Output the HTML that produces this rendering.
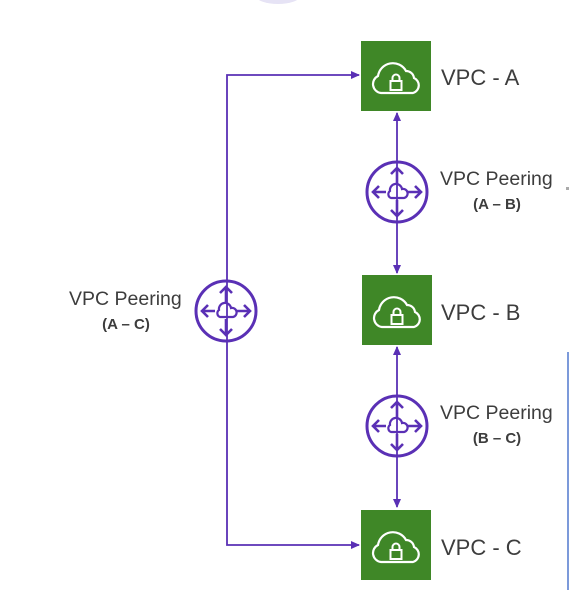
<!DOCTYPE html>
<html><head><style>
html,body{margin:0;padding:0;background:#fff;}
svg{display:block;}
text{font-family:"Liberation Sans",sans-serif;fill:#3d3d3d;}
</style></head><body>
<svg width="570" height="590" viewBox="0 0 570 590" xmlns="http://www.w3.org/2000/svg">
<defs>
<marker id="ah" markerWidth="10" markerHeight="10" refX="8" refY="4" orient="auto" markerUnits="userSpaceOnUse">
<path d="M0,0 L9,4 L0,8 Z" fill="#5a30b5"/>
</marker>
<g id="vpc">
<rect x="0" y="0" width="70" height="70" fill="#3f8727"/>
<path d="M20,52 A9,9 0 0 1 17,35 A15,15 0 0 1 45,30 A8,8 0 0 1 53,37 A8,8 0 0 1 52,52 Z" fill="none" stroke="#fff" stroke-width="2.2"/>
<rect x="29.5" y="40" width="11" height="9" fill="none" stroke="#fff" stroke-width="2"/>
<path d="M31.5,40 V37 A3.5,3.5 0 0 1 38.5,37 V40" fill="none" stroke="#fff" stroke-width="2"/>
</g>
<g id="peer" fill="none" stroke="#5a30b5" stroke-width="2.6">
<circle cx="0" cy="0" r="30" stroke-width="3"/>
<path d="M0,-8 V-24 M-6,-18 L0,-24 L6,-18"/>
<path d="M0,8 V24 M-6,18 L0,24 L6,18"/>
<path d="M-11,0 H-24 M-18,-6 L-24,0 L-18,6"/>
<path d="M11,0 H24 M18,-6 L24,0 L18,6"/>
<path d="M-6,6 A4,4 0 0 1 -7,-1 A6,6 0 0 1 5,-3 A4,4 0 0 1 7,6 Z" stroke-width="2.2"/>
</g>
</defs>

<ellipse cx="278" cy="-4" rx="22" ry="8" fill="#e6e3f5"/>

<g stroke="#5a30b5" stroke-width="1.8" fill="none">
<path d="M227,300 V75 H359" marker-end="url(#ah)"/>
<path d="M227,300 V545 H359" marker-end="url(#ah)"/>
<line x1="397" y1="200" x2="397" y2="113" marker-end="url(#ah)"/>
<line x1="397" y1="180" x2="397" y2="273" marker-end="url(#ah)"/>
<line x1="397" y1="430" x2="397" y2="347" marker-end="url(#ah)"/>
<line x1="397" y1="420" x2="397" y2="507" marker-end="url(#ah)"/>
</g>

<use href="#vpc" x="361" y="41"/>
<use href="#vpc" x="362" y="275"/>
<use href="#vpc" x="361" y="510"/>

<g fill="#fff"><circle cx="226" cy="311" r="30"/><circle cx="397" cy="192" r="30"/><circle cx="397" cy="426" r="30"/></g>
<use href="#peer" x="226" y="311"/>
<use href="#peer" x="397" y="192"/>
<use href="#peer" x="397" y="426"/>
<line x1="227" y1="281" x2="227" y2="341" stroke="#5a30b5" stroke-width="1.8"/>
<line x1="397" y1="162" x2="397" y2="222" stroke="#5a30b5" stroke-width="1.8"/>
<line x1="397" y1="396" x2="397" y2="456" stroke="#5a30b5" stroke-width="1.8"/>

<text x="441" y="85" font-size="22">VPC - A</text>
<text x="441" y="320" font-size="22">VPC - B</text>
<text x="441" y="555" font-size="22">VPC - C</text>

<text x="440" y="185" font-size="19.5">VPC Peering</text>
<text x="497" y="209" font-size="15" font-weight="bold" text-anchor="middle">(A – B)</text>
<text x="440" y="419" font-size="19.5">VPC Peering</text>
<text x="497" y="443" font-size="15" font-weight="bold" text-anchor="middle">(B – C)</text>
<text x="69" y="305" font-size="19.5">VPC Peering</text>
<text x="126" y="329" font-size="15" font-weight="bold" text-anchor="middle">(A – C)</text>

<rect x="566" y="187" width="3" height="3" fill="#aaa"/>
<line x1="568" y1="352" x2="568" y2="590" stroke="#5b80d0" stroke-width="1.6"/>
</svg>
</body></html>
